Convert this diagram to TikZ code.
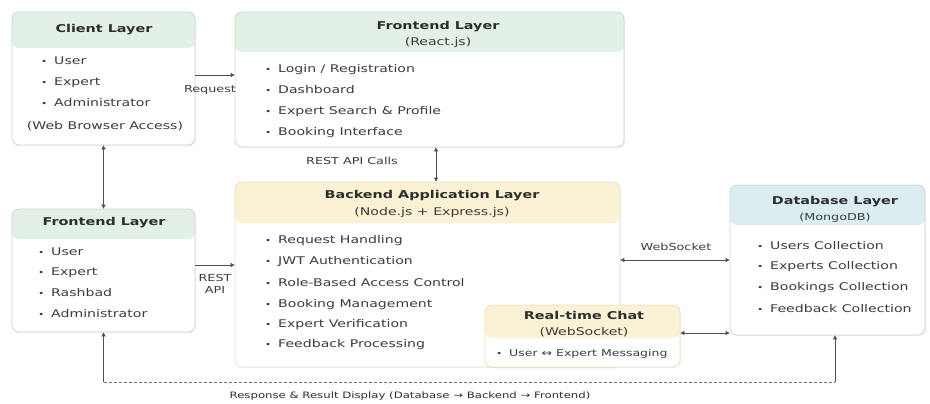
\documentclass[tikz,border=0pt]{standalone}
\usepackage{fontspec}
\setmainfont[FakeStretch=1.33]{DejaVu Sans}
\usetikzlibrary{arrows.meta,calc,shadows}
\definecolor{hdrgreen}{HTML}{E3F0E5}
\definecolor{hdryellow}{HTML}{FBF1D4}
\definecolor{hdrblue}{HTML}{DCEDF2}
\definecolor{boxline}{HTML}{CFD4D0}
\definecolor{yboxline}{HTML}{EEE2C2}
\definecolor{txt}{HTML}{3C3C3C}
\definecolor{ttl}{HTML}{2E2E2E}
\definecolor{arrcol}{HTML}{505050}
\newcommand\bul{\makebox[13pt][l]{\raisebox{0.5pt}{\fontsize{8}{8}\selectfont•}}}
\newcommand\fbody{\fontsize{10.6}{12}\selectfont}
\newcommand\ftitle{\fontsize{10.8}{12}\selectfont\bfseries}
\newcommand\fsub{\fontsize{10.6}{12}\selectfont}
\begin{document}
\begin{tikzpicture}[x=1pt,y=-1pt,
  layerbox/.style n args={3}{draw=#3, fill=white, rounded corners=7pt, line width=0.8pt, inner sep=0pt,
    drop shadow={shadow xshift=0.8pt, shadow yshift=-1.2pt, opacity=0.12},
    path picture={\fill[#1] ([yshift=2pt]path picture bounding box.north west) rectangle ([yshift=-#2]path picture bounding box.north east);}},
  txtbase/.style={inner sep=0pt, text height=7.6pt, text depth=2.2pt},
  itm/.style={txtbase, anchor=west, text=txt, font=\fbody},
  ttlnode/.style={txtbase, text=ttl, font=\ftitle},
  subnode/.style={txtbase, text=txt, font=\fsub},
  lbl/.style={txtbase, text=txt, font=\fsub},
  arr/.style={draw=arrcol, line width=0.8pt, -{Triangle[length=4pt,width=4pt]}},
  arrb/.style={draw=arrcol, line width=0.8pt, {Triangle[length=4pt,width=4pt]}-{Triangle[length=4pt,width=4pt]}},
  dline/.style={draw=arrcol!80, line width=0.8pt, dash pattern=on 3pt off 2pt}]
\useasboundingbox (0,0) rectangle (930,404);
\fill[white] (0,0) rectangle (930,404);

% boxes
\node[layerbox={hdrgreen}{36pt}{boxline}, minimum width=183pt, minimum height=133pt] (client) at (103.5,78.5) {};
\node[layerbox={hdrgreen}{40pt}{boxline}, minimum width=389pt, minimum height=135pt] (feTop) at (429.5,79.5) {};
\node[layerbox={hdrgreen}{30pt}{boxline}, minimum width=183pt, minimum height=123pt] (feLeft) at (103.5,270.5) {};
\node[layerbox={hdryellow}{41pt}{yboxline}, minimum width=385pt, minimum height=185pt] (backend) at (427.5,274.5) {};
\node[layerbox={hdryellow}{33pt}{yboxline}, minimum width=195pt, minimum height=62pt] (chat) at (582.5,336) {};
\node[layerbox={hdrblue}{40pt}{boxline}, minimum width=195pt, minimum height=150pt] (db) at (827.5,260) {};

% client text
\node[ttlnode] (clT) at (104,30) {Client Layer};
\node[itm] (cl1) at (41,62) {\bul User};
\node[itm] (cl2) at (41,83) {\bul Expert};
\node[itm] (cl3) at (41,104) {\bul Administrator};
\node[subnode] (cl4) at (105,127) {(Web Browser Access)};

% frontend top text
\node[ttlnode] (ftT) at (438,27) {Frontend Layer};
\node[subnode] (ftS) at (438,43) {(React.js)};
\node[itm] (ft1) at (265,70) {\bul Login / Registration};
\node[itm] (ft2) at (265,91) {\bul Dashboard};
\node[itm] (ft3) at (265,112) {\bul Expert Search \& Profile};
\node[itm] (ft4) at (265,133) {\bul Booking Interface};

% frontend left text
\node[ttlnode] (flT) at (104,223) {Frontend Layer};
\node[itm] (fl1) at (38,253) {\bul User};
\node[itm] (fl2) at (38,273) {\bul Expert};
\node[itm] (fl3) at (38,294) {\bul Rashbad};
\node[itm] (fl4) at (38,315) {\bul Administrator};

% backend text
\node[ttlnode] (beT) at (432,196) {Backend Application Layer};
\node[subnode] (beS) at (432,213) {(Node.js + Express.js)};
\node[itm] (be1) at (265,241) {\bul Request Handling};
\node[itm] (be2) at (265,262) {\bul JWT Authentication};
\node[itm] (be3) at (265,284) {\bul Role-Based Access Control};
\node[itm] (be4) at (265,305) {\bul Booking Management};
\node[itm] (be5) at (265,325) {\bul Expert Verification};
\node[itm] (be6) at (265,345) {\bul Feedback Processing};

% chat text
\node[ttlnode] (chT) at (584,317) {Real-time Chat};
\node[subnode] (chS) at (584,333) {(WebSocket)};
\node[itm, font=\fontsize{9.4}{11}\selectfont] (ch1) at (496,354) {\bul User ↔ Expert Messaging};

% db text
\node[ttlnode] (dbT) at (835,202) {Database Layer};
\node[subnode, font=\fontsize{9.6}{11}\selectfont] (dbS) at (835,218) {(MongoDB)};
\node[itm] (db1) at (757,247) {\bul Users Collection};
\node[itm] (db2) at (757,267) {\bul Experts Collection};
\node[itm] (db3) at (757,288) {\bul Bookings Collection};
\node[itm] (db4) at (757,310) {\bul Feedback Collection};

% connectors
\coordinate (c1) at ([yshift=3.5pt]client.east);
\draw[arr] (c1) -- (c1 -| feTop.west);
\draw[arrb] (client.south) -- (feLeft.north);
\coordinate (c2) at ([xshift=6.5pt]feTop.south);
\draw[arrb] (c2) -- (c2 |- backend.north);
\coordinate (c3) at ([yshift=5.5pt]feLeft.east);
\draw[arr] (c3) -- (c3 -| backend.west);
\coordinate (c4) at ([yshift=14.5pt]backend.east);
\draw[arrb] (c4) -- (c4 -| db.west);
\coordinate (c5) at ([yshift=3pt]chat.east);
\draw[arrb] (c5) -- (c5 -| db.west);
\coordinate (c6) at ([xshift=7.5pt]db.south);
\coordinate (b1) at ($(feLeft.south)+(0,50)$);
\coordinate (b2) at (b1 -| c6);
\draw[arr] (b1) -- (feLeft.south);
\draw[dline] (b1) -- (b2);
\draw[arr] (b2) -- (c6);

% labels
\node[lbl, font=\fontsize{9.6}{11}\selectfont] (lReq) at (210,90) {Request};
\node[lbl, font=\fontsize{9.6}{11}\selectfont] (lRest) at (352,162) {REST API Calls};
\node[lbl, align=center, text height=, text depth=, font=\fontsize{9.6}{12.5}\selectfont] (lApi) at (215,284) {REST\\API};
\node[lbl, font=\fontsize{9.6}{11}\selectfont] (lWs) at (676,248) {WebSocket};
\node[lbl, font=\fontsize{8.8}{10}\selectfont, text=ttl] (lResp) at (410,396) {Response \& Result Display (Database → Backend → Frontend)};
\end{tikzpicture}
\end{document}
